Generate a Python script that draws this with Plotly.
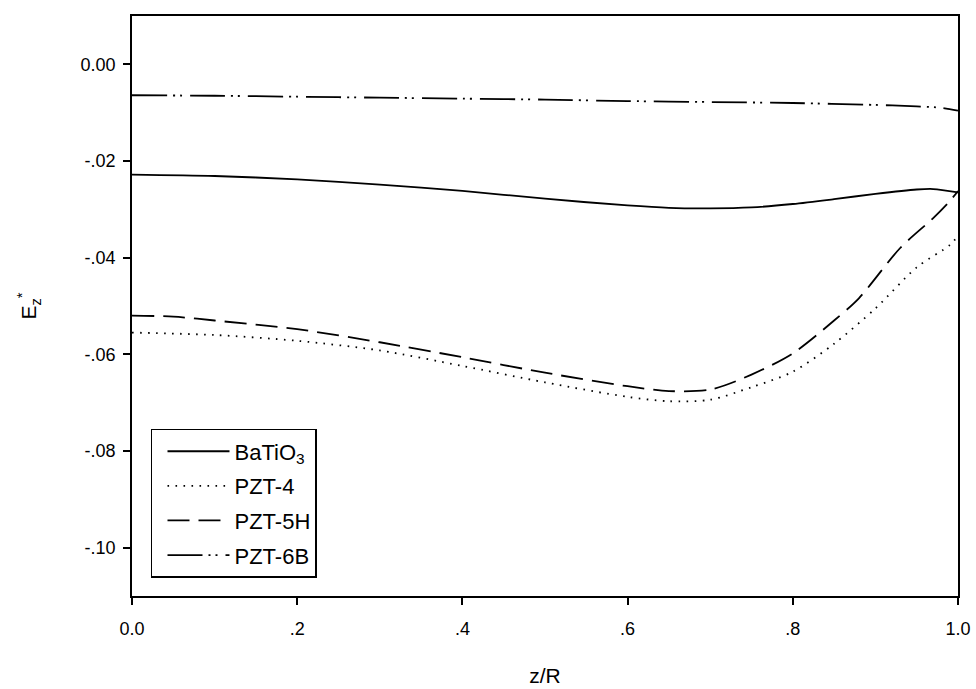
import plotly.graph_objects as go

# ---- data ----
z_bt = [0.0, 0.1, 0.2, 0.3, 0.4, 0.5, 0.6, 0.65, 0.7, 0.75, 0.8, 0.85, 0.9, 0.95, 0.97, 1.0]
e_bt = [-0.0228, -0.0231, -0.0238, -0.0249, -0.0262, -0.0278, -0.0292, -0.0297, -0.0298,
        -0.0296, -0.0289, -0.0279, -0.0268, -0.0259, -0.0258, -0.0265]

z_p4 = [0.0, 0.1, 0.2, 0.3, 0.4, 0.5, 0.6, 0.65, 0.7, 0.75, 0.8, 0.85, 0.9, 0.95, 0.99, 1.0]
e_p4 = [-0.0555, -0.0560, -0.0572, -0.0592, -0.0624, -0.0658, -0.0688, -0.0697, -0.0694,
        -0.0668, -0.0636, -0.0578, -0.0505, -0.0420, -0.0374, -0.0355]

z_p5 = [0.0, 0.05, 0.1, 0.2, 0.3, 0.4, 0.5, 0.6, 0.65, 0.7, 0.75, 0.8, 0.85, 0.88, 0.93, 0.97, 0.99, 1.0]
e_p5 = [-0.0520, -0.0522, -0.0530, -0.0548, -0.0575, -0.0606, -0.0638, -0.0666, -0.0676,
        -0.0673, -0.0642, -0.0598, -0.0530, -0.0484, -0.0380, -0.0318, -0.0283, -0.0262]

z_p6 = [0.0, 0.1, 0.2, 0.3, 0.4, 0.5, 0.6, 0.7, 0.8, 0.9, 0.95, 0.98, 1.0]
e_p6 = [-0.0064, -0.0065, -0.0067, -0.0069, -0.0071, -0.0073, -0.0076, -0.0078, -0.0080,
        -0.0084, -0.0087, -0.0090, -0.0096]

x_ticks = [0.0, 0.2, 0.4, 0.6, 0.8, 1.0]
x_ticktext = ["0.0", ".2", ".4", ".6", ".8", "1.0"]
y_ticks = [0.0, -0.02, -0.04, -0.06, -0.08, -0.10]
y_ticktext = ["0.00", "-.02", "-.04", "-.06", "-.08", "-.10"]

names = ["BaTiO<sub>3</sub>", "PZT-4", "PZT-5H", "PZT-6B"]

FONT = "Liberation Sans, Arial, sans-serif"
fig = go.Figure()
series = [
    (z_bt, e_bt, "solid"),
    (z_p4, e_p4, "1.6px,6.4px"),
    (z_p5, e_p5, "22px,9px"),
    (z_p6, e_p6, "35px,6px,2px,5px,2px,8px"),
]
for i, ((zx, ey, dash), nm) in enumerate(zip(series, names)):
    fig.add_trace(go.Scatter(
        x=zx, y=ey, mode="lines", name=nm, legendgroup=f"g{i}",
        line=dict(color="black", width=1.8, dash=dash, shape="spline", smoothing=0.8),
    ))

axis_common = dict(
    showline=True, linecolor="black", linewidth=1.6, mirror=True,
    showgrid=False, zeroline=False, ticks="outside", ticklen=7, tickwidth=1.5,
    tickcolor="black", tickfont=dict(size=18, color="black", family=FONT),
    automargin=False,
)
fig.update_xaxes(range=[0, 1], tickvals=x_ticks, ticktext=x_ticktext,
                 ticklabelstandoff=9,
                 title=dict(text="z/R", font=dict(size=21, color="black", family=FONT), standoff=30),
                 **axis_common)
fig.update_yaxes(range=[-0.11, 0.01], tickvals=y_ticks, ticktext=y_ticktext,
                 ticklabelstandoff=4,
                 title=dict(text="E<sub>z</sub><sup>*</sup>", font=dict(size=21, color="black", family=FONT), standoff=38),
                 **axis_common)

fig.update_layout(
    width=976, height=689,
    margin=dict(l=132, r=18, t=16, b=93),
    paper_bgcolor="white", plot_bgcolor="white",
    font=dict(family=FONT, color="black"),
    showlegend=True,
    legend=dict(
        x=0.023, y=0.288, xanchor="left", yanchor="top",
        bordercolor="black", borderwidth=1.5, bgcolor="white",
        font=dict(size=22, color="black", family=FONT),
        itemwidth=62, tracegroupgap=3, indentation=10,
    ),
)

fig.write_html("out.html")
